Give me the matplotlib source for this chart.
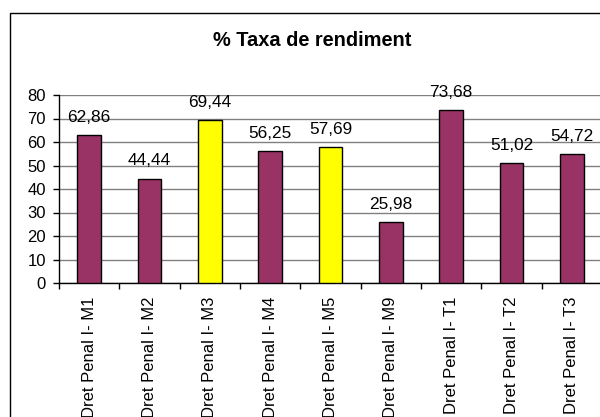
import numpy as np
import matplotlib
matplotlib.use("Agg")
import matplotlib.pyplot as plt
from matplotlib.patches import Rectangle

# data
categories = ["Dret Penal I- M1", "Dret Penal I- M2", "Dret Penal I- M3",
              "Dret Penal I- M4", "Dret Penal I- M5", "Dret Penal I- M9",
              "Dret Penal I- T1", "Dret Penal I- T2", "Dret Penal I- T3"]
values = [62.86, 44.44, 69.44, 56.25, 57.69, 25.98, 73.68, 51.02, 54.72]
highlighted = ["Dret Penal I- M3", "Dret Penal I- M5"]
yticks = [0, 10, 20, 30, 40, 50, 60, 70, 80]

plt.rcParams['font.family'] = ['Liberation Sans', 'DejaVu Sans']

fig = plt.figure(figsize=(6, 4.17), dpi=100)
fig.patch.set_facecolor("white")

# outer chart border (cut off at right / bottom like the reference)
fig.add_artist(Rectangle((10/600, -0.1), 1.0, (417-13)/417 + 0.1,
                         transform=fig.transFigure, fill=False,
                         edgecolor="black", linewidth=1.0))

ax = fig.add_axes([59/600, (417-283)/417, 543/600, 188/417])

x = np.arange(len(categories))
colors = ["#FFFF00" if c in highlighted else "#993366" for c in categories]
ax.bar(x, values, width=0.39, color=colors, edgecolor="black", linewidth=1.0, zorder=3)

for xi, v in zip(x, values):
    ax.annotate(f"{v:.2f}".replace(".", ","), (xi, v), xytext=(0, 9.5),
                textcoords="offset points", ha="center", va="baseline",
                fontsize=12.4, zorder=4)

ax.set_xlim(-0.5, len(categories) - 0.5)
ax.set_ylim(0, 80)
ax.set_yticks(yticks)
ax.set_yticklabels([str(t) for t in yticks], fontsize=12)
ax.grid(axis="y", color="#808080", linewidth=1.0, zorder=0)
ax.tick_params(axis="y", length=4.3, width=1, pad=5, direction="out")

ax.set_xticks(x)
ax.set_xticklabels(categories, rotation=90, fontsize=12, va="top")
ax.set_xticks(np.arange(len(categories) + 1) - 0.5, minor=True)
ax.tick_params(axis="x", which="major", length=0, pad=10)
ax.tick_params(axis="x", which="minor", length=4, width=1, direction="out")

for s in ["top", "right"]:
    ax.spines[s].set_visible(False)
ax.spines["left"].set_linewidth(1.0)
ax.spines["bottom"].set_linewidth(1.0)

fig.text(312/600, (417-46.5)/417, "% Taxa de rendiment", ha="center",
         va="baseline", fontsize=14.4, fontweight="bold")

fig.savefig("out.png", dpi=100)
